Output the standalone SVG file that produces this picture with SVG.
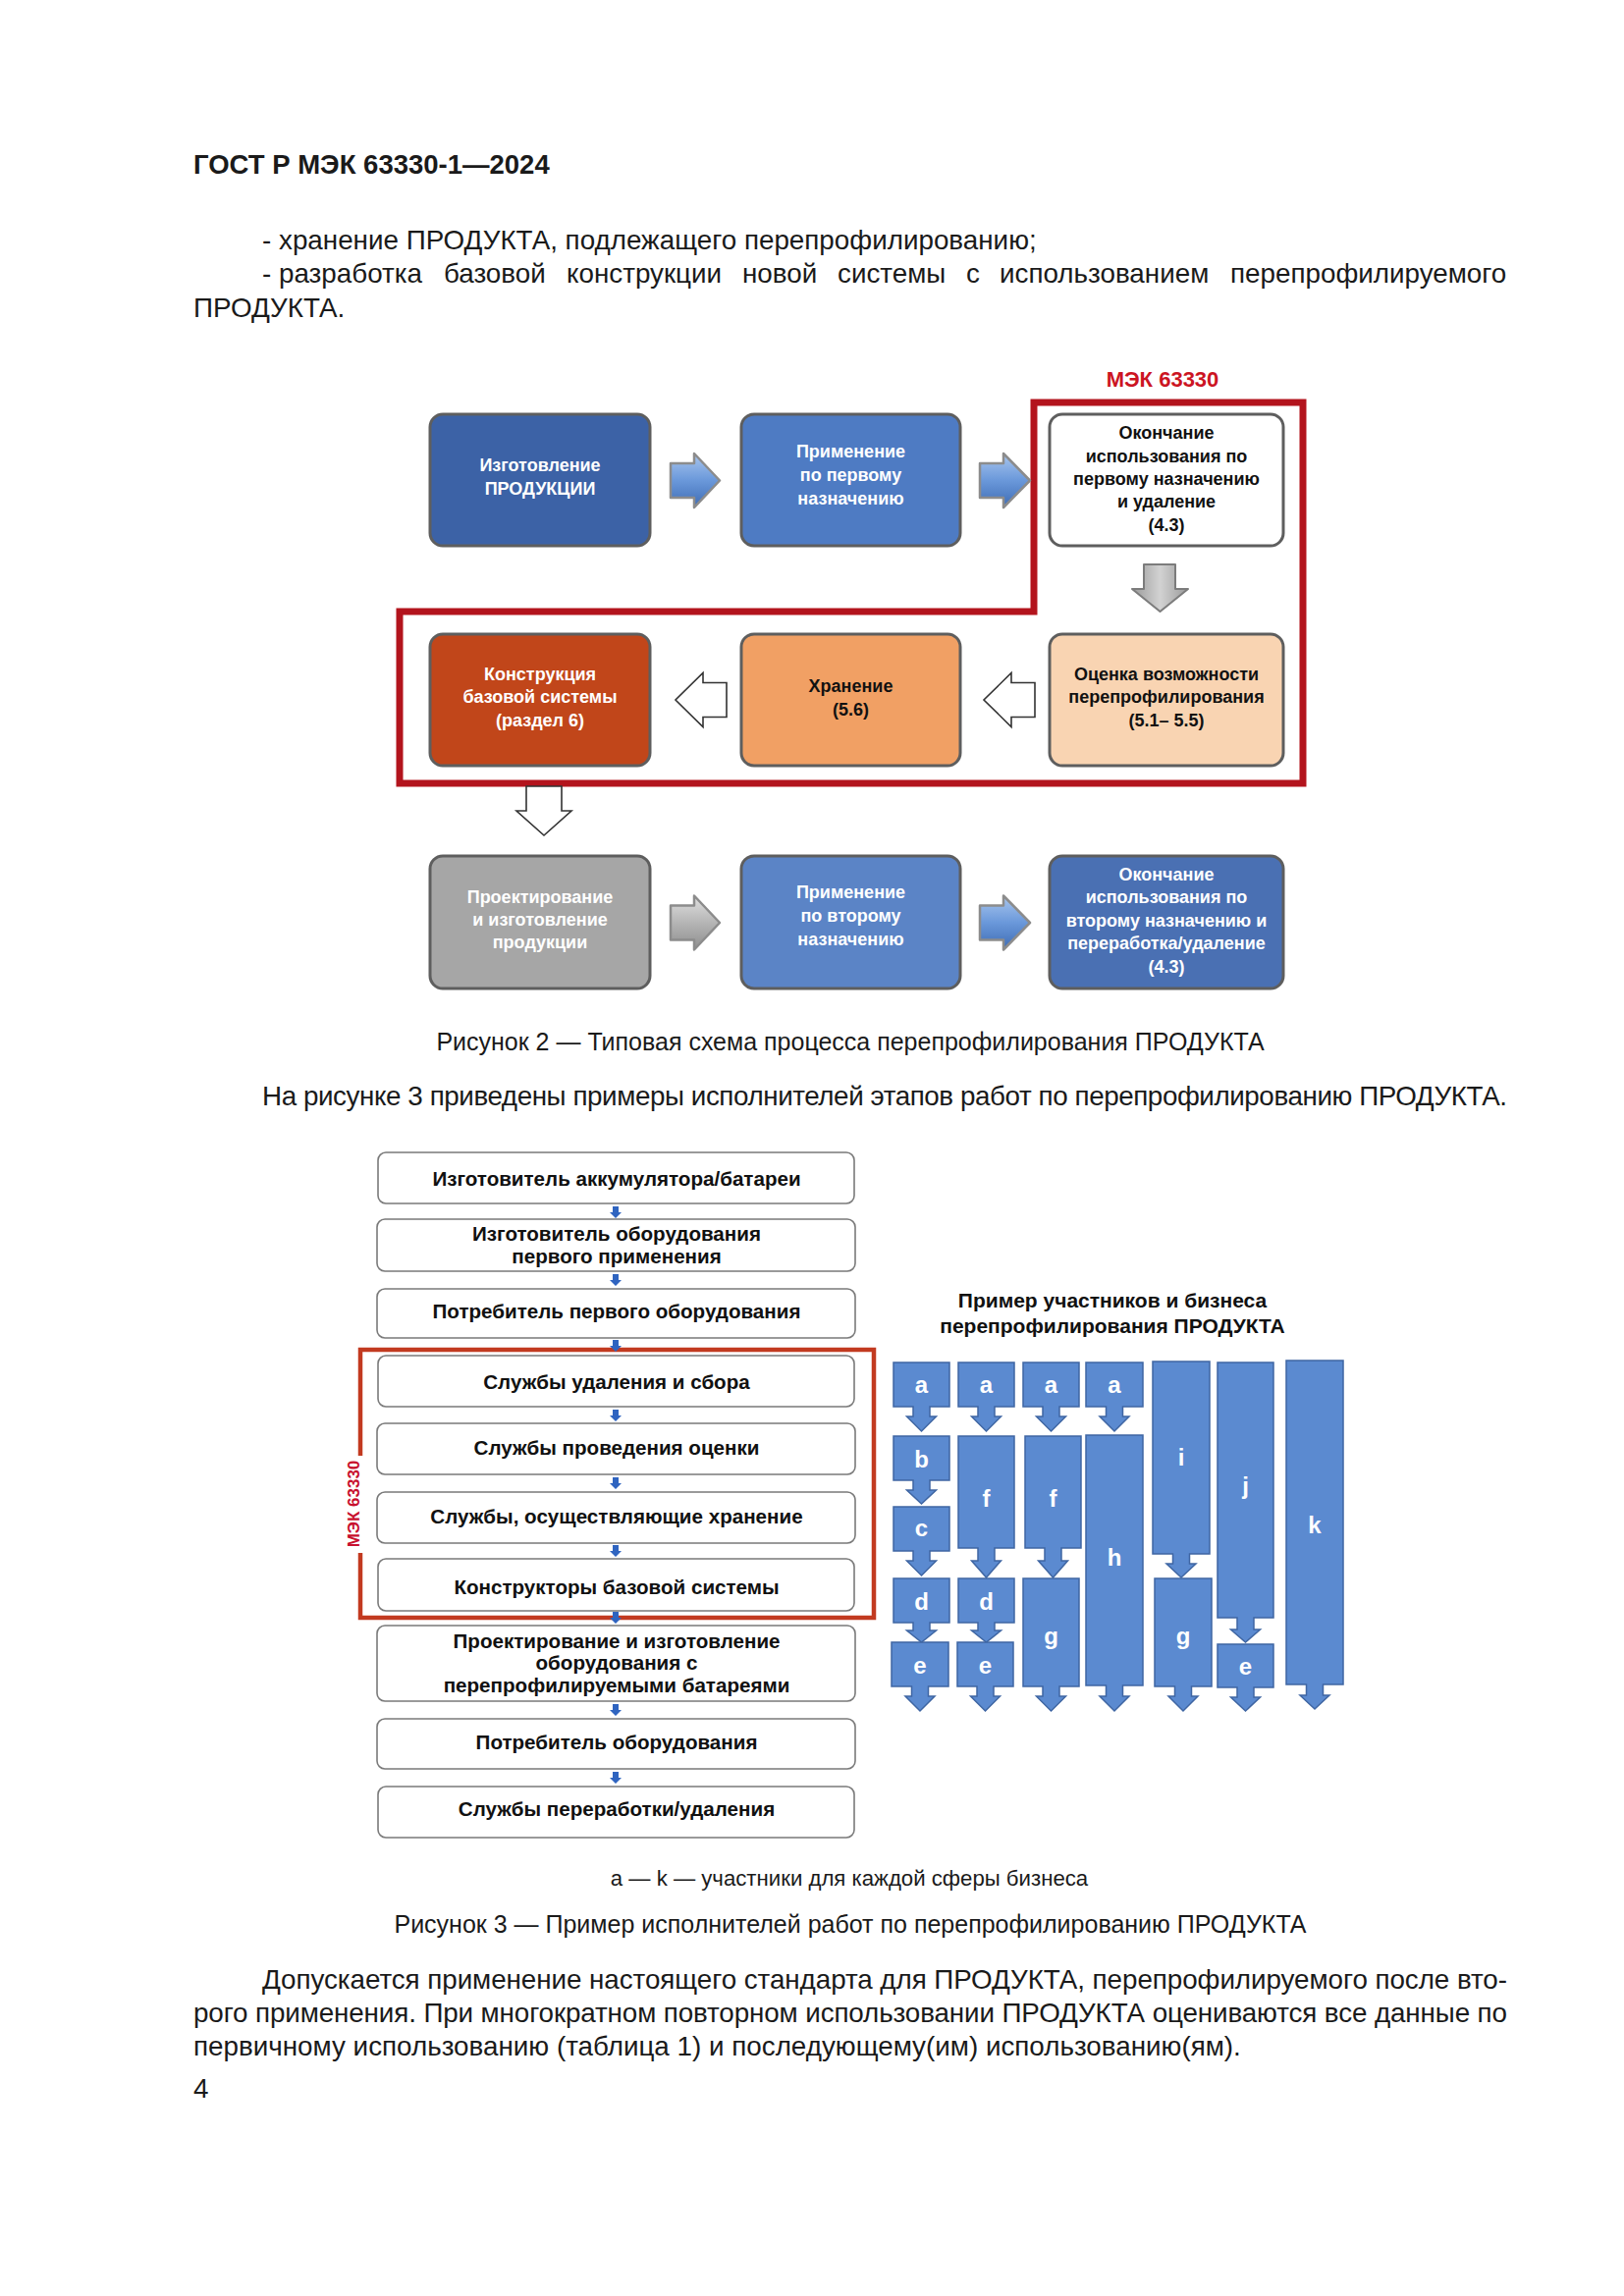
<svg xmlns="http://www.w3.org/2000/svg" width="1654" height="2339" viewBox="0 0 1654 2339">
<defs>
<style>
text{font-family:"Liberation Sans",Arial,sans-serif;}
.body{font-size:27.8px;fill:#1a1a1a;}
.cap{font-size:25px;fill:#1a1a1a;text-anchor:middle;}
.note{font-size:22.2px;fill:#1a1a1a;text-anchor:middle;}
.bx{font-size:18px;font-weight:bold;text-anchor:middle;}
.w{fill:#ffffff;}
.k{fill:#111111;}
.fb{stroke:#5e5e5e;stroke-width:3;}
.lb{fill:#ffffff;stroke:#7a7a7a;stroke-width:1.6;}
.lt{font-size:20.6px;font-weight:bold;fill:#111;text-anchor:middle;}
.col{fill:#5b8ad0;stroke:#3f66a3;stroke-width:1.5;}
.cl{font-size:24px;font-weight:bold;fill:#ffffff;text-anchor:middle;}
.sa{fill:#2f64c0;}
</style>
<linearGradient id="gBlue" x1="0" y1="0" x2="0" y2="1">
<stop offset="0" stop-color="#a9c6ee"/>
<stop offset="0.5" stop-color="#6a98da"/>
<stop offset="1" stop-color="#3e6cb4"/>
</linearGradient>
<linearGradient id="gGray" x1="0" y1="0" x2="0" y2="1">
<stop offset="0" stop-color="#e0e0e0"/>
<stop offset="0.5" stop-color="#b5b5b5"/>
<stop offset="1" stop-color="#8e8e8e"/>
</linearGradient>
<linearGradient id="gGrayH" x1="0" y1="0" x2="1" y2="0">
<stop offset="0" stop-color="#9a9a9a"/>
<stop offset="0.5" stop-color="#d2d2d2"/>
<stop offset="1" stop-color="#9a9a9a"/>
</linearGradient>
</defs>
<rect x="0" y="0" width="1654" height="2339" fill="#ffffff"/>

<!-- Page text -->
<g id="page-text">
<text x="197" y="177" style="font-size:27.5px;font-weight:bold;fill:#1a1a1a">ГОСТ Р МЭК 63330-1—2024</text>
<text class="body" x="267" y="254">- хранение ПРОДУКТА, подлежащего перепрофилированию;</text>
<text class="body" y="288"><tspan x="267">-</tspan><tspan x="284">разработка</tspan><tspan x="452">базовой</tspan><tspan x="577">конструкции</tspan><tspan x="756">новой</tspan><tspan x="853">системы</tspan><tspan x="984">с</tspan><tspan x="1018">использованием</tspan><tspan x="1253">перепрофилируемого</tspan></text>
<text class="body" x="197" y="323">ПРОДУКТА.</text>
<text class="cap" x="866" y="1070">Рисунок 2 — Типовая схема процесса перепрофилирования ПРОДУКТА</text>
<text class="body" x="267" y="1126" textLength="1268" lengthAdjust="spacing">На рисунке 3 приведены примеры исполнителей этапов работ по перепрофилированию ПРОДУКТА.</text>
<text class="note" x="865" y="1921">a — k — участники для каждой сферы бизнеса</text>
<text class="cap" x="866" y="1969">Рисунок 3 — Пример исполнителей работ по перепрофилированию ПРОДУКТА</text>
<text class="body" x="267" y="2026" textLength="1268" lengthAdjust="spacing">Допускается применение настоящего стандарта для ПРОДУКТА, перепрофилируемого после вто-</text>
<text class="body" x="197" y="2060" textLength="1338" lengthAdjust="spacing">рого применения. При многократном повторном использовании ПРОДУКТА оцениваются все данные по</text>
<text class="body" x="197" y="2094">первичному использованию (таблица 1) и последующему(им) использованию(ям).</text>
<text class="body" x="197" y="2137">4</text>
</g>

<!-- Figure 2 -->
<g id="fig2-frame">
<path d="M1053,410 H1327 V798 H407 V623 H1053 Z" fill="none" stroke="#b3141d" stroke-width="7"/>
<text x="1184" y="394" style="font-size:22px;font-weight:bold;fill:#cc1422;text-anchor:middle">МЭК 63330</text>
</g>

<g id="f2-n1">
<rect class="fb" x="438" y="422" width="224" height="134" rx="13" fill="#3c62a6"/>
<text class="bx w"><tspan x="550" y="480">Изготовление</tspan><tspan x="550" y="504">ПРОДУКЦИИ</tspan></text>
</g>
<g id="f2-n2">
<rect class="fb" x="755" y="422" width="223" height="134" rx="13" fill="#4e7bc3"/>
<text class="bx w"><tspan x="866.5" y="466">Применение</tspan><tspan x="866.5" y="490">по первому</tspan><tspan x="866.5" y="514">назначению</tspan></text>
</g>
<g id="f2-n3">
<rect class="fb" x="1069" y="422" width="238" height="134" rx="13" fill="#ffffff"/>
<text class="bx k"><tspan x="1188" y="447">Окончание</tspan><tspan x="1188" y="471">использования по</tspan><tspan x="1188" y="494">первому назначению</tspan><tspan x="1188" y="517">и удаление</tspan><tspan x="1188" y="541">(4.3)</tspan></text>
</g>
<g id="f2-n4">
<rect class="fb" x="438" y="646" width="224" height="134" rx="13" fill="#c1461a"/>
<text class="bx w"><tspan x="550" y="693">Конструкция</tspan><tspan x="550" y="716">базовой системы</tspan><tspan x="550" y="740">(раздел 6)</tspan></text>
</g>
<g id="f2-n5">
<rect class="fb" x="755" y="646" width="223" height="134" rx="13" fill="#f1a064"/>
<text class="bx k"><tspan x="866.5" y="705">Хранение</tspan><tspan x="866.5" y="729">(5.6)</tspan></text>
</g>
<g id="f2-n6">
<rect class="fb" x="1069" y="646" width="238" height="134" rx="13" fill="#f9d4b2"/>
<text class="bx k"><tspan x="1188" y="693">Оценка возможности</tspan><tspan x="1188" y="716">перепрофилирования</tspan><tspan x="1188" y="740">(5.1– 5.5)</tspan></text>
</g>
<g id="f2-n7">
<rect class="fb" x="438" y="872" width="224" height="135" rx="13" fill="#a6a6a6"/>
<text class="bx w"><tspan x="550" y="920">Проектирование</tspan><tspan x="550" y="943">и изготовление</tspan><tspan x="550" y="966">продукции</tspan></text>
</g>
<g id="f2-n8">
<rect class="fb" x="755" y="872" width="223" height="135" rx="13" fill="#5b84c6"/>
<text class="bx w"><tspan x="866.5" y="915">Применение</tspan><tspan x="866.5" y="939">по второму</tspan><tspan x="866.5" y="963">назначению</tspan></text>
</g>
<g id="f2-n9">
<rect class="fb" x="1069" y="872" width="238" height="135" rx="13" fill="#4a70b3"/>
<text class="bx w"><tspan x="1188" y="897">Окончание</tspan><tspan x="1188" y="920">использования по</tspan><tspan x="1188" y="944">второму назначению и</tspan><tspan x="1188" y="967">переработка/удаление</tspan><tspan x="1188" y="991">(4.3)</tspan></text>
</g>

<g id="f2-connectors">
<polygon points="683,472 707,472 707,462 733,489.5 707,517 707,507 683,507" fill="url(#gBlue)" stroke="#8c8c8c" stroke-width="2.5" stroke-linejoin="round"/>
<polygon points="998,472 1022,472 1022,462 1049,489.5 1022,517 1022,507 998,507" fill="url(#gBlue)" stroke="#8c8c8c" stroke-width="2.5" stroke-linejoin="round"/>
<polygon points="1165,575 1197,575 1197,600 1210,600 1181.5,623 1153,600 1165,600" fill="url(#gGrayH)" stroke="#7c7c7c" stroke-width="2" stroke-linejoin="round"/>
<polygon points="740,695.5 716,695.5 716,685.5 688,713 716,740.5 716,730.5 740,730.5" fill="#ffffff" stroke="#333333" stroke-width="1.6"/>
<polygon points="1054,695.5 1030,695.5 1030,685.5 1002,713 1030,740.5 1030,730.5 1054,730.5" fill="#ffffff" stroke="#333333" stroke-width="1.6"/>
<polygon points="536,801 572,801 572,826 582,826 554,851 526,826 536,826" fill="#ffffff" stroke="#333333" stroke-width="1.6"/>
<polygon points="683,922.5 707,922.5 707,912.5 733,940 707,967.5 707,957.5 683,957.5" fill="url(#gGray)" stroke="#8c8c8c" stroke-width="2.5" stroke-linejoin="round"/>
<polygon points="998,922.5 1022,922.5 1022,912.5 1049,940 1022,967.5 1022,957.5 998,957.5" fill="url(#gBlue)" stroke="#8c8c8c" stroke-width="2.5" stroke-linejoin="round"/>
</g>

<!-- Figure 3 left -->
<g id="fig3-frame">
<path d="M367,1483 V1375 H890 V1648 H367 V1582" fill="none" stroke="#c23a20" stroke-width="4.5"/>
<text transform="translate(366,1532) rotate(-90)" x="0" y="0" style="font-size:17px;font-weight:bold;fill:#c8102e;text-anchor:middle">МЭК 63330</text>
</g>
<g id="f3-n1"><rect class="lb" x="385" y="1174" width="485" height="52" rx="8"/><text class="lt" x="628" y="1208">Изготовитель аккумулятора/батареи</text></g>
<g id="f3-n2"><rect class="lb" x="384" y="1242" width="487" height="53" rx="8"/><text class="lt"><tspan x="628" y="1264">Изготовитель оборудования</tspan><tspan x="628" y="1287">первого применения</tspan></text></g>
<g id="f3-n3"><rect class="lb" x="384" y="1313" width="487" height="50" rx="8"/><text class="lt" x="628" y="1343">Потребитель первого оборудования</text></g>
<g id="f3-n4"><rect class="lb" x="385" y="1381" width="485" height="52" rx="8"/><text class="lt" x="628" y="1415">Службы удаления и сбора</text></g>
<g id="f3-n5"><rect class="lb" x="384" y="1450" width="487" height="52" rx="8"/><text class="lt" x="628" y="1482">Службы проведения оценки</text></g>
<g id="f3-n6"><rect class="lb" x="384" y="1520" width="487" height="52" rx="8"/><text class="lt" x="628" y="1552">Службы, осуществляющие хранение</text></g>
<g id="f3-n7"><rect class="lb" x="385" y="1588" width="485" height="53" rx="8"/><text class="lt" x="628" y="1624">Конструкторы базовой системы</text></g>
<g id="f3-n8"><rect class="lb" x="384" y="1656" width="487" height="77" rx="8"/><text class="lt"><tspan x="628" y="1679">Проектирование и изготовление</tspan><tspan x="628" y="1701">оборудования с</tspan><tspan x="628" y="1724">перепрофилируемыми батареями</tspan></text></g>
<g id="f3-n9"><rect class="lb" x="384" y="1751" width="487" height="51" rx="8"/><text class="lt" x="628" y="1782">Потребитель оборудования</text></g>
<g id="f3-n10"><rect class="lb" x="385" y="1820" width="485" height="52" rx="8"/><text class="lt" x="628" y="1850">Службы переработки/удаления</text></g>

<g id="f3-connectors">
<polygon class="sa" points="624,1229 630,1229 630,1235 633,1235 627,1241 621,1235 624,1235"/>
<polygon class="sa" points="624,1298 630,1298 630,1304 633,1304 627,1310 621,1304 624,1304"/>
<polygon class="sa" points="624,1365 630,1365 630,1371 633,1371 627,1377 621,1371 624,1371"/>
<polygon class="sa" points="624,1436 630,1436 630,1442 633,1442 627,1448 621,1442 624,1442"/>
<polygon class="sa" points="624,1505 630,1505 630,1511 633,1511 627,1517 621,1511 624,1511"/>
<polygon class="sa" points="624,1574 630,1574 630,1580 633,1580 627,1586 621,1580 624,1580"/>
<polygon class="sa" points="624,1642 630,1642 630,1648 633,1648 627,1654 621,1648 624,1648"/>
<polygon class="sa" points="624,1736 630,1736 630,1742 633,1742 627,1748 621,1742 624,1742"/>
<polygon class="sa" points="624,1805 630,1805 630,1811 633,1811 627,1817 621,1811 624,1811"/>
</g>

<!-- Figure 3 right -->
<g id="f3-title">
<text style="font-size:21px;font-weight:bold;fill:#111;text-anchor:middle"><tspan x="1133" y="1332">Пример участников и бизнеса</tspan><tspan x="1133" y="1358">перепрофилирования ПРОДУКТА</tspan></text>
</g>
<g id="col1">
<path class="col" d="M910,1388 H967 V1433 H947 V1443 H953.5 L938.5,1458 L923.5,1443 H930 V1433 H910 Z"/><text class="cl" x="938.5" y="1419">a</text>
<path class="col" d="M910,1463 H967 V1508 H947 V1518 H953.5 L938.5,1532 L923.5,1518 H930 V1508 H910 Z"/><text class="cl" x="938.5" y="1495">b</text>
<path class="col" d="M910,1535 H967 V1580 H947 V1590 H953.5 L938.5,1605 L923.5,1590 H930 V1580 H910 Z"/><text class="cl" x="938.5" y="1565">c</text>
<path class="col" d="M910,1608 H967 V1653 H947 V1661 H953.5 L938.5,1673 L923.5,1661 H930 V1653 H910 Z"/><text class="cl" x="938.5" y="1640">d</text>
<path class="col" d="M908,1673 H966 V1718 H945.5 V1728 H952 L937,1743 L922,1728 H928.5 V1718 H908 Z"/><text class="cl" x="937" y="1705">e</text>
</g>
<g id="col2">
<path class="col" d="M976,1388 H1033 V1433 H1013 V1443 H1019.5 L1004.5,1458 L989.5,1443 H996 V1433 H976 Z"/><text class="cl" x="1004.5" y="1419">a</text>
<path class="col" d="M976,1463 H1033 V1577 H1013 V1590 H1019.5 L1004.5,1607 L989.5,1590 H996 V1577 H976 Z"/><text class="cl" x="1004.5" y="1535">f</text>
<path class="col" d="M976,1608 H1033 V1653 H1013 V1661 H1019.5 L1004.5,1673 L989.5,1661 H996 V1653 H976 Z"/><text class="cl" x="1004.5" y="1640">d</text>
<path class="col" d="M975,1673 H1032 V1718 H1012 V1728 H1018.5 L1003.5,1743 L988.5,1728 H995 V1718 H975 Z"/><text class="cl" x="1003.5" y="1705">e</text>
</g>
<g id="col3">
<path class="col" d="M1042,1388 H1099 V1433 H1079 V1443 H1085.5 L1070.5,1458 L1055.5,1443 H1062 V1433 H1042 Z"/><text class="cl" x="1070.5" y="1419">a</text>
<path class="col" d="M1044,1463 H1101 V1577 H1081 V1590 H1087.5 L1072.5,1607 L1057.5,1590 H1064 V1577 H1044 Z"/><text class="cl" x="1072.5" y="1535">f</text>
<path class="col" d="M1042,1608 H1099 V1718 H1079 V1728 H1085.5 L1070.5,1743 L1055.5,1728 H1062 V1718 H1042 Z"/><text class="cl" x="1070.5" y="1675">g</text>
</g>
<g id="col4">
<path class="col" d="M1106,1388 H1164 V1433 H1143.5 V1443 H1150 L1135,1458 L1120,1443 H1126.5 V1433 H1106 Z"/><text class="cl" x="1135" y="1419">a</text>
<path class="col" d="M1106,1462 H1164 V1717 H1143.5 V1728 H1150 L1135,1743 L1120,1728 H1126.5 V1717 H1106 Z"/><text class="cl" x="1135" y="1595">h</text>
</g>
<g id="col5">
<path class="col" d="M1174,1387 H1232 V1583 H1211.5 V1593 H1218 L1203,1607 L1188,1593 H1194.5 V1583 H1174 Z"/><text class="cl" x="1203" y="1493">i</text>
<path class="col" d="M1176,1608 H1234 V1718 H1213.5 V1728 H1220 L1205,1743 L1190,1728 H1196.5 V1718 H1176 Z"/><text class="cl" x="1205" y="1675">g</text>
</g>
<g id="col6">
<path class="col" d="M1240,1388 H1297 V1648 H1277 V1660 H1283.5 L1268.5,1673 L1253.5,1660 H1260 V1648 H1240 Z"/><text class="cl" x="1268.5" y="1522">j</text>
<path class="col" d="M1240,1675 H1297 V1719 H1277 V1729 H1283.5 L1268.5,1743 L1253.5,1729 H1260 V1719 H1240 Z"/><text class="cl" x="1268.5" y="1706">e</text>
</g>
<g id="col7">
<path class="col" d="M1310,1386 H1368 V1716 H1347.5 V1727 H1354 L1339,1741 L1324,1727 H1330.5 V1716 H1310 Z"/><text class="cl" x="1339" y="1562">k</text>
</g>
</svg>
